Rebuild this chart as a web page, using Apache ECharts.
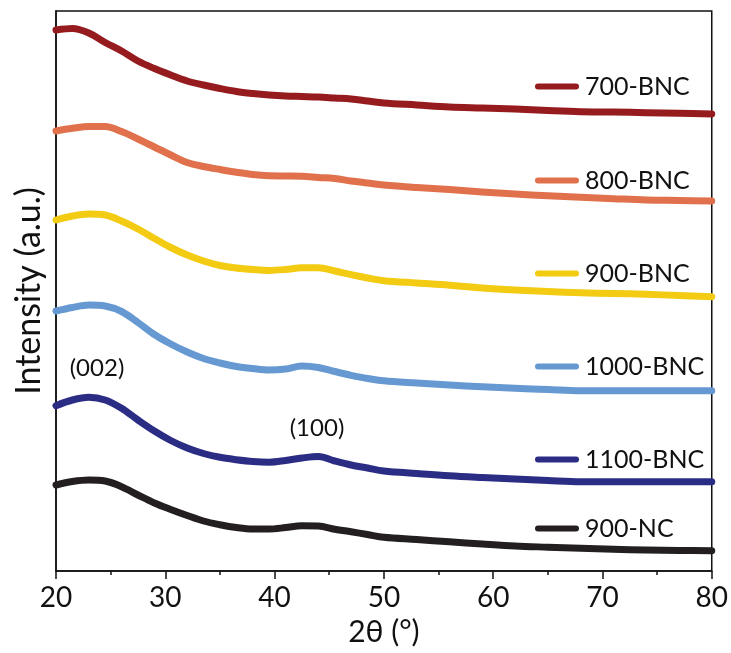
<!DOCTYPE html>
<html>
<head>
<meta charset="utf-8">
<script src="https://cdn.jsdelivr.net/npm/echarts@6/dist/echarts.min.js"></script>
<style>
html,body{margin:0;padding:0;background:#fff;}
#chart{width:731px;height:653px;}
</style>
</head>
<body>
<div id="chart"></div>
<script>
// 2θ angles (degrees)
var angles = [20,21.5,23,24.5,26,27.5,29,30.5,32,33.5,35,36.5,38,39.5,41,42.5,44,45.5,47,48.5,50,53,56,59,62,65,68,71,74,77,80];
// Intensities (a.u., stacked offsets as drawn)
var s700BNC  = [541,542.5,538,528.5,520,510,502.5,496,490,486,482.5,479.5,477.5,476,475,474.5,474,473,472,470,468,466,464,463,462,460.5,459.3,459,458.3,457.7,457];
var s800BNC  = [440,442.7,444.5,444.5,439.5,432,424,416,408.5,404.5,401.5,398.8,396.4,395.2,395,394.8,393.6,392.5,390,388,386,383.5,381.5,379,377,375.2,373.7,372.3,371,370.5,370];
var s900BNC  = [351,355,357,356,350,342,332.5,323.5,316,310,305.5,303,301.5,300.6,301.5,303.2,303.2,300,296.3,293,290.3,288,285.8,283,281,279.5,278.3,277.5,276.7,275.5,274.3];
var s1000BNC = [260,263.5,266,265,259.5,248.5,236.5,227,219,212.5,208,204.5,202.4,201,202,205,203.5,199.5,195.7,192.5,190.2,188,186,184.2,182.7,181.5,180.3,180.3,180.3,180.3,180.3];
var s1100BNC = [165.3,171,173.7,171,162.7,151,140,130.5,123,117.5,113.7,111.3,109.5,108.8,110.5,113,114.5,110,106,103,100,97.5,95.2,93.5,92,90.5,89.3,89.3,89.3,89.3,89.3];
var s900NC   = [86,89.5,91,90,84.3,76,68,61.5,55.5,50,46.3,43.5,42,42,43.4,45.2,45,41.8,39.2,36.5,33.7,31.5,29.2,27,25,23.8,22.7,21.8,21,20.6,20.3];

var seriesNames = ['700-BNC','800-BNC','900-BNC','1000-BNC','1100-BNC','900-NC'];
var seriesValues = [s700BNC,s800BNC,s900BNC,s1000BNC,s1100BNC,s900NC];
var colors = ['#951B1E','#E0714C','#F2CB12','#6699D2','#2B2D85','#231F20'];
var legendCenters = [89,183,276,369,462,531];
var annotations = [{text:'(002)', x:97, y:368},{text:'(100)', x:317, y:428}];
var xTicks = [20,30,40,50,60,70,80];

var FONT = 'Lato, "Liberation Sans", sans-serif';
var chart = echarts.init(document.getElementById('chart'), null, {renderer:'canvas'});

var series = seriesNames.map(function(n,i){
  return {
    name:n, type:'line', smooth:0.35, symbol:'none', showSymbol:false,
    data: angles.map(function(a,j){return [a, seriesValues[i][j]];}),
    lineStyle:{color:colors[i], width:7, cap:'round', join:'round'},
    itemStyle:{color:colors[i]},
    z: 10-i
  };
});

var legends = seriesNames.map(function(n,i){
  return {
    data:[n], left:535, top:legendCenters[i]-15, orient:'horizontal',
    icon:'path://M3,0H41A3,3,0,0,1,41,6H3A3,3,0,0,1,3,0Z',
    itemWidth:44, itemHeight:6, itemGap:0, padding:0,
    selectedMode:false,
    itemStyle:{borderWidth:0},
    textStyle:{fontFamily:FONT, fontSize:25, color:'#111', padding:[0,0,0,1]}
  };
});

chart.setOption({
  animation:false,
  backgroundColor:'#fff',
  grid:{left:56, right:19, top:11, bottom:82, show:true, borderColor:'#111', borderWidth:1.5, backgroundColor:'transparent'},
  legend: legends,
  xAxis:{
    type:'value', min:20, max:80, interval:10,
    name:'2θ (°)', nameLocation:'middle', nameGap:45,
    nameTextStyle:{fontFamily:FONT, fontSize:30, color:'#111'},
    axisLine:{show:true, lineStyle:{color:'#111', width:1.5}},
    axisTick:{show:true, inside:false, length:8, lineStyle:{color:'#111', width:1.5}},
    minorTick:{show:true, splitNumber:2, length:4, lineStyle:{color:'#111', width:1.5}},
    axisLabel:{fontFamily:FONT, fontSize:28, color:'#111', margin:13,
      formatter:function(v){return xTicks.indexOf(v)>=0 ? String(v) : '';}},
    splitLine:{show:false}
  },
  yAxis:{
    type:'value', min:0, max:560,
    name:'Intensity (a.u.)', nameLocation:'middle', nameGap:10,
    nameTextStyle:{fontFamily:FONT, fontSize:34, color:'#111'},
    axisLine:{show:true, lineStyle:{color:'#111', width:1.5}},
    axisTick:{show:false}, axisLabel:{show:false}, splitLine:{show:false}
  },
  graphic: annotations.map(function(a){
    return {type:'text', x:a.x, y:a.y, style:{text:a.text, fontFamily:FONT, fontSize:24, fill:'#111', textAlign:'center', textVerticalAlign:'middle'}};
  }),
  series: series
});
</script>
</body>
</html>
